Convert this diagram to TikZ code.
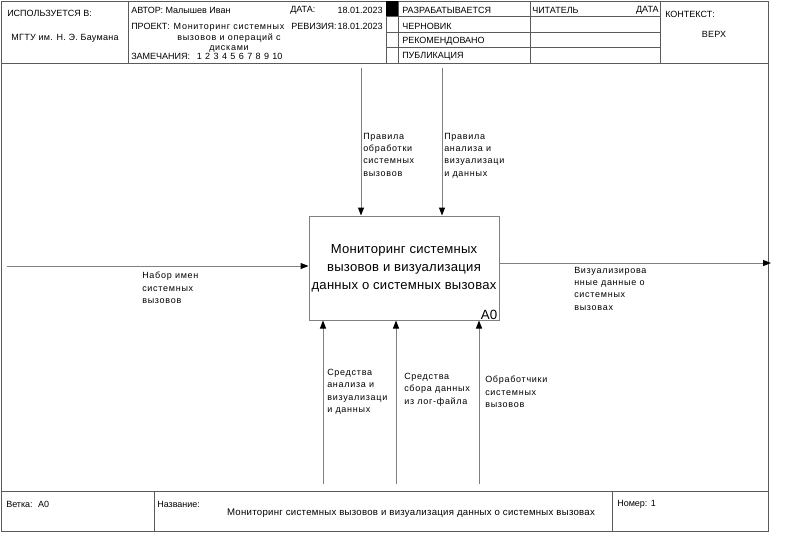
\documentclass[tikz,border=0pt]{standalone}
\usepackage{fontspec}
\setmainfont{Liberation Sans}
\newfontfamily\lblf[LetterSpace=8]{Liberation Sans}
\newfontfamily\boxf[LetterSpace=2]{Liberation Sans}
\newfontfamily\prjf[LetterSpace=8]{Liberation Sans}
\newfontfamily\ttlf[LetterSpace=3]{Liberation Sans}
\usetikzlibrary{arrows.meta}
\definecolor{lc}{RGB}{90,90,90}
\definecolor{bc}{RGB}{128,128,128}
\tikzset{
  frameline/.style={draw=lc, line width=0.75pt},
  arr/.style={draw=bc, line width=0.75pt, -{Triangle[length=6pt,width=4.5pt,color=black,fill=black]}},
  hdr/.style={font=\fontsize{6.75}{8}\selectfont, inner sep=0pt, anchor=west},
  hdrc/.style={font=\ttlf\fontsize{6.75}{8}\selectfont, inner sep=0pt},
  prj/.style={font=\prjf\fontsize{6.75}{7.9}\selectfont, inner sep=0pt, align=center},
  lab/.style={font=\lblf\fontsize{6.75}{9.2}\selectfont, align=left, inner sep=0pt, anchor=north west},
  funcbox/.style={draw=bc, line width=0.75pt, minimum width=142.5pt, minimum height=78pt, inner sep=0pt, align=center, font=\boxf\fontsize{9.8}{13.5}\selectfont},
}
\begin{document}
\begin{tikzpicture}[x=0.75pt,y=-0.75pt]
\useasboundingbox (0,0) rectangle (799,532);
% ---------- frame ----------
\draw[frameline] (1,1) rectangle (768,531);
\draw[frameline] (1,63) -- (768,63);
\draw[frameline] (1,491) -- (768,491);
\foreach \xx in {128,386,398,530,660} \draw[frameline] (\xx,1) -- (\xx,63);
\foreach \yy in {16,32,47} \draw[frameline] (386,\yy) -- (660,\yy);
\fill[black] (386,1) rectangle (398,16);
\draw[frameline] (154,491) -- (154,531);
\draw[frameline] (612,491) -- (612,531);
% ---------- header text ----------
\node[hdr] (used) at (7,13) {ИСПОЛЬЗУЕТСЯ В:};
\node[hdrc] (org) at (65,38) {МГТУ им. Н. Э. Баумана};
\node[hdr] (author) at (131,10) {АВТОР: Малышев Иван};
\node[hdr] (datel) at (290,10) {ДАТА:};
\node[hdr, anchor=east] (datev) at (383,10) {18.01.2023};
\node[hdr] (projl) at (131,26) {ПРОЕКТ:};
\node[prj] (projt) at (229,38) {Мониторинг системных\\вызовов и операций с\\дисками};
\node[hdr] (revl) at (291,26) {РЕВИЗИЯ:};
\node[hdr, anchor=east] (revv) at (383,26) {18.01.2023};
\node[hdr] (notes) at (131,56) {ЗАМЕЧАНИЯ:\hskip5pt 1\hskip2.55pt 2\hskip2.55pt 3\hskip2.55pt 4\hskip2.55pt 5\hskip2.55pt 6\hskip2.55pt 7\hskip2.55pt 8\hskip2.55pt 9\hskip2.55pt 10};
\node[hdr] (st1) at (402,10) {РАЗРАБАТЫВАЕТСЯ};
\node[hdr] (st2) at (402,26) {ЧЕРНОВИК};
\node[hdr] (st3) at (402,41) {РЕКОМЕНДОВАНО};
\node[hdr] (st4) at (402,56) {ПУБЛИКАЦИЯ};
\node[hdr] (reader) at (532,10) {ЧИТАТЕЛЬ};
\node[hdr, anchor=east] (rdate) at (659,10) {ДАТА};
\node[hdr] (ctx) at (665,14) {КОНТЕКСТ:};
\node[hdrc] (top) at (714,34) {ВЕРХ};
% ---------- footer text ----------
\node[hdr] (node) at (6,504) {Ветка:\hskip4pt A0};
\node[hdr] (titlel) at (157,504) {Название:};
\node[font=\ttlf\fontsize{7.2}{8}\selectfont, inner sep=0pt] (title) at (411,513) {Мониторинг системных вызовов и визуализация данных о системных вызовах};
\node[hdr] (num) at (617,504) {Номер: 1};
% ---------- function box ----------
\node[funcbox] (func) at (404,268) {Мониторинг системных\\вызовов и визуализация\\данных о системных вызовах};
\node[font=\fontsize{10}{12}\selectfont, inner sep=0pt, anchor=south east] (a0) at ([shift={(-2,-1)}]func.south east) {A0};
% ---------- arrows ----------
\coordinate (inS) at (7,266);
\draw[arr] (inS) -- (inS -| func.west);
\coordinate (c1) at (361,68);
\coordinate (c2) at (442,68);
\draw[arr] (c1) -- (c1 |- func.north);
\draw[arr] (c2) -- (c2 |- func.north);
\coordinate (m1) at (323,484);
\coordinate (m2) at (396,484);
\coordinate (m3) at (479,484);
\draw[arr] (m1) -- (m1 |- func.south);
\draw[arr] (m2) -- (m2 |- func.south);
\draw[arr] (m3) -- (m3 |- func.south);
\coordinate (outE) at (771,263);
\draw[arr] (outE -| func.east) -- (outE);
% ---------- arrow labels ----------
\node[lab] (linp) at (142,272) {Набор имен\\системных\\вызовов};
\node[lab] (lc1) at (363,133) {Правила\\обработки\\системных\\вызовов};
\node[lab] (lc2) at (444,133) {Правила\\анализа и\\визуализаци\\и данных};
\node[lab] (lm1) at (327,369) {Средства\\анализа и\\визуализаци\\и данных};
\node[lab] (lm2) at (404,373) {Средства\\сбора данных\\из лог-файла};
\node[lab] (lm3) at (485,376) {Обработчики\\системных\\вызовов};
\node[lab] (lout) at (574,267) {Визуализирова\\нные данные о\\системных\\вызовах};
\end{tikzpicture}
\end{document}
